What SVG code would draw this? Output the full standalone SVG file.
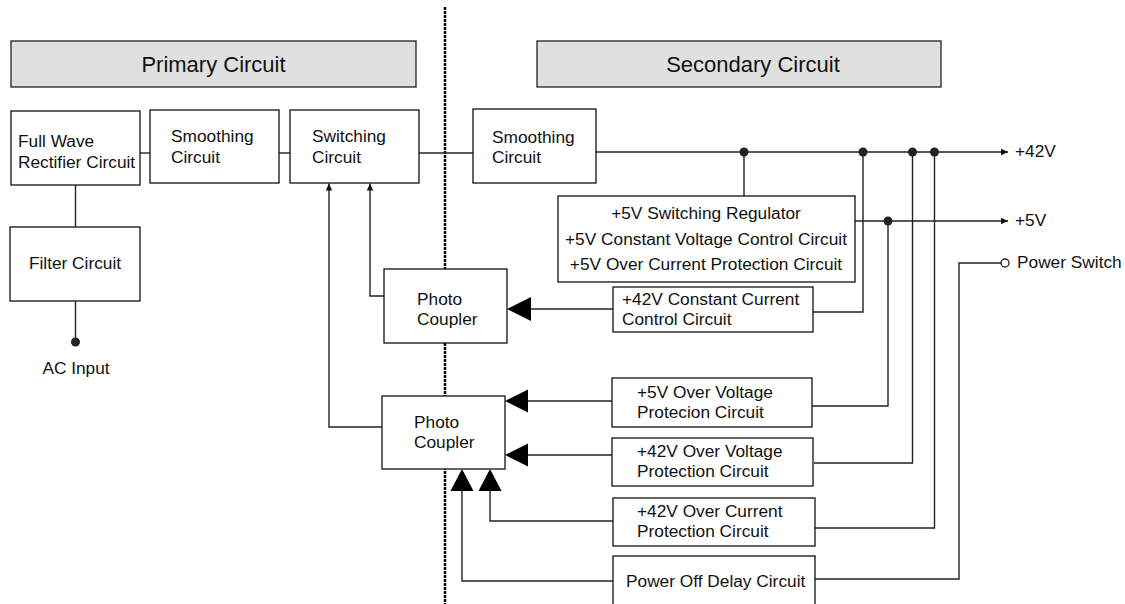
<svg xmlns="http://www.w3.org/2000/svg" width="1125" height="604" viewBox="0 0 1125 604">
<style>
.box{fill:#fff;stroke:#111;stroke-width:1.3}
.hdr{fill:#e0e0e0;stroke:#222;stroke-width:1.3}
.ln{fill:none;stroke:#222;stroke-width:1.4}
.dash{fill:none;stroke:#000;stroke-width:2.4;stroke-dasharray:3,1}
text{font-family:"Liberation Sans",Arial,sans-serif;font-size:17.3px;fill:#111}
.h{font-size:22px}
.dot{fill:#222}
.big{fill:#000}
</style>
<defs>
<marker id="sm" markerWidth="8" markerHeight="8" refX="7" refY="4" orient="auto" markerUnits="userSpaceOnUse">
<path d="M0,0.8 L7,4 L0,7.2 Z" fill="#111"/>
</marker>
</defs>
<rect width="1125" height="604" fill="#fff"/>
<g id="divider">
<line class="dash" x1="445" y1="7" x2="445" y2="604"/>
</g>
<g id="connectors">
<line class="ln" x1="140" y1="153" x2="150" y2="153"/>
<line class="ln" x1="279" y1="153" x2="290" y2="153"/>
<line class="ln" x1="419" y1="153" x2="473" y2="153"/>
<line class="ln" x1="75.5" y1="185" x2="75.5" y2="227"/>
<line class="ln" x1="75.5" y1="301" x2="75.5" y2="342"/>
<circle class="dot" cx="75.5" cy="342" r="4.5"/>
<line class="ln" x1="596" y1="152" x2="1008" y2="152" marker-end="url(#sm)"/>
<line class="ln" x1="855" y1="221" x2="1008" y2="221" marker-end="url(#sm)"/>
<line class="ln" x1="744" y1="152" x2="744" y2="196"/>
<polyline class="ln" points="813,312 863,312 863,152"/>
<polyline class="ln" points="812,406 888,406 888,221"/>
<polyline class="ln" points="814,463 912.5,463 912.5,152"/>
<polyline class="ln" points="815,528 934.5,528 934.5,152"/>
<polyline class="ln" points="815,579 959,579 959,263 1001,263"/>
<circle cx="1005" cy="263" r="4" fill="#fff" stroke="#222" stroke-width="1.3"/>
<circle class="dot" cx="744" cy="152" r="4.5"/>
<circle class="dot" cx="863" cy="152" r="4.5"/>
<circle class="dot" cx="912.5" cy="152" r="4.5"/>
<circle class="dot" cx="934.5" cy="152" r="4.5"/>
<circle class="dot" cx="888" cy="221" r="4.5"/>
<polyline class="ln" points="382,427 329,427 329,183.5" marker-end="url(#sm)"/>
<polyline class="ln" points="384,296 370,296 370,183.5" marker-end="url(#sm)"/>
<line class="ln" x1="613" y1="309" x2="530" y2="309"/>
<path class="big" d="M507,309 L531,297 L531,321 Z"/>
<line class="ln" x1="612" y1="401" x2="527" y2="401"/>
<path class="big" d="M505,401 L528,389.5 L528,412.5 Z"/>
<line class="ln" x1="612" y1="455" x2="527" y2="455"/>
<path class="big" d="M505,455 L528,443.5 L528,466.5 Z"/>
<polyline class="ln" points="613,521 490,521 490,490"/>
<path class="big" d="M490,469 L501.5,491 L478.5,491 Z"/>
<polyline class="ln" points="613,581 462,581 462,490"/>
<path class="big" d="M462,469 L473.5,491 L450.5,491 Z"/>
</g>
<g id="primary-header">
<rect class="hdr" x="11" y="41" width="405" height="46"/>
<text class="h" x="213.5" y="72" text-anchor="middle">Primary Circuit</text>
</g>
<g id="secondary-header">
<rect class="hdr" x="537" y="41" width="404" height="46"/>
<text class="h" x="753" y="72" text-anchor="middle">Secondary Circuit</text>
</g>
<g id="full-wave">
<rect class="box" x="11" y="111" width="129" height="74"/>
<text x="18" y="147">Full Wave</text>
<text x="18" y="168">Rectifier Circuit</text>
</g>
<g id="smoothing-primary">
<rect class="box" x="150" y="110" width="129" height="73"/>
<text x="171" y="142">Smoothing</text>
<text x="171" y="163">Circuit</text>
</g>
<g id="switching">
<rect class="box" x="290" y="110" width="129" height="73"/>
<text x="312" y="142">Switching</text>
<text x="312" y="163">Circuit</text>
</g>
<g id="filter">
<rect class="box" x="10" y="227" width="130" height="74"/>
<text x="75" y="269" text-anchor="middle">Filter Circuit</text>
</g>
<g id="ac-input">
<text x="76" y="374" text-anchor="middle">AC Input</text>
</g>
<g id="smoothing-secondary">
<rect class="box" x="473" y="109" width="123" height="74"/>
<text x="492" y="143">Smoothing</text>
<text x="492" y="163">Circuit</text>
</g>
<g id="regulator">
<rect class="box" x="558" y="196" width="297" height="86"/>
<text x="706" y="219" text-anchor="middle">+5V Switching Regulator</text>
<text x="706" y="245" text-anchor="middle">+5V Constant Voltage Control Circuit</text>
<text x="706" y="270" text-anchor="middle">+5V Over Current Protection Circuit</text>
</g>
<g id="photo-coupler-1">
<rect class="box" x="384" y="269" width="123" height="74"/>
<text x="417" y="305">Photo</text>
<text x="417" y="325">Coupler</text>
</g>
<g id="photo-coupler-2">
<rect class="box" x="382" y="396" width="123" height="73"/>
<text x="414" y="428">Photo</text>
<text x="414" y="448">Coupler</text>
</g>
<g id="cc-42v">
<rect class="box" x="613" y="287" width="200" height="45"/>
<text x="622" y="305">+42V Constant Current</text>
<text x="622" y="325">Control Circuit</text>
</g>
<g id="ov-5v">
<rect class="box" x="612" y="378" width="200" height="49"/>
<text x="637" y="398">+5V Over Voltage</text>
<text x="637" y="418">Protecion Circuit</text>
</g>
<g id="ov-42v">
<rect class="box" x="612" y="438" width="201" height="48"/>
<text x="637" y="457">+42V Over Voltage</text>
<text x="637" y="477">Protection Circuit</text>
</g>
<g id="oc-42v">
<rect class="box" x="613" y="498" width="202" height="48"/>
<text x="637" y="517">+42V Over Current</text>
<text x="637" y="537">Protection Circuit</text>
</g>
<g id="power-off-delay">
<rect class="box" x="613" y="556" width="202" height="60"/>
<text x="626" y="587">Power Off Delay Circuit</text>
</g>
<g id="outputs">
<text x="1015" y="157">+42V</text>
<text x="1015" y="226">+5V</text>
<text x="1017" y="268">Power Switch</text>
</g>
</svg>
